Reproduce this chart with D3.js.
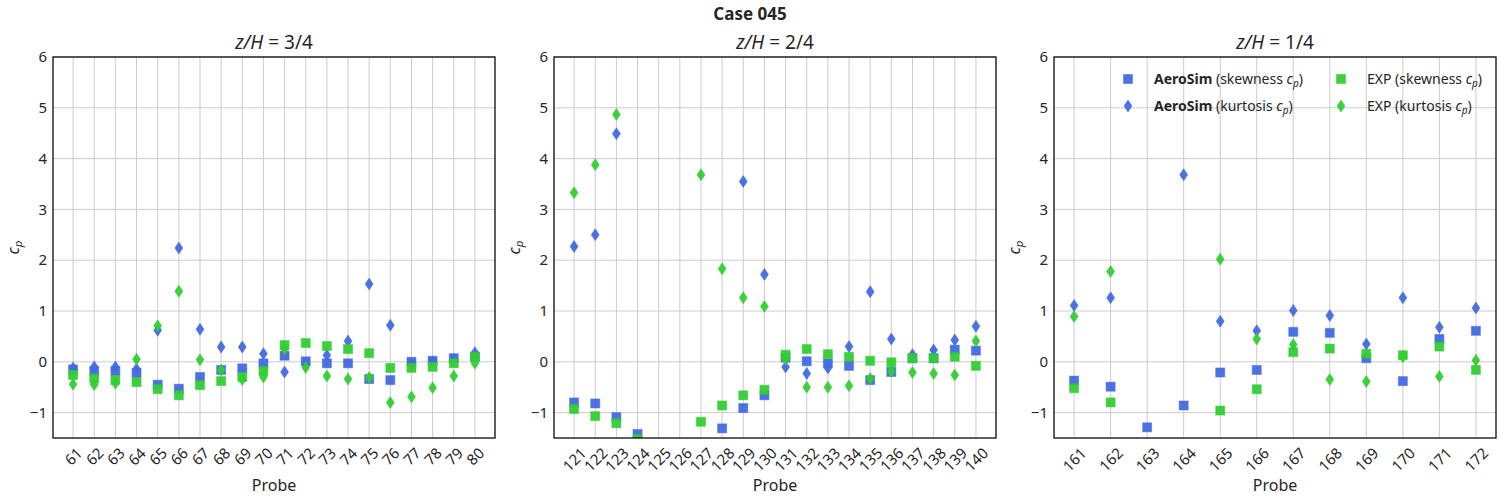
<!DOCTYPE html>
<html lang="en">
<head>
<meta charset="UTF-8">
<title>Case 045</title>
<script src="https://d3js.org/d3.v7.min.js"></script>
<style>
    body { margin: 0; background: #fff; }
    svg text { font-family: "Noto Sans", "Open Sans", sans-serif; fill: #262626; }
</style>
</head>
<body>
<div id="fig"></div>
<script>
    // probes per level
    let probes1 = d3.range(61, 81)
    let probes2 = d3.range(121, 141)
    let probes3 = d3.range(161, 173)

    // z/H = 3/4
    let asSkew1 = [-0.15,-0.18,-0.18,-0.22,-0.45,-0.53,-0.30,-0.16,-0.13,-0.03, 0.12,0.01,-0.03,-0.03,-0.34,-0.36,0.00,0.02,0.07,0.10]
    let asKurt1 = [-0.12,-0.10,-0.10,-0.14,0.62,2.24,0.64,0.29,0.29,0.16, -0.20,-0.05,0.13,0.41,1.53,0.72,-0.05,0.00,0.05,0.18]
    let expSkew1 = [-0.26,-0.33,-0.36,-0.40,-0.54,-0.66,-0.46,-0.38,-0.30,-0.18, 0.33,0.37,0.31,0.25,0.17,-0.12,-0.12,-0.10,-0.03,0.10]
    let expKurt1 = [-0.44,-0.45,-0.42,0.05,0.71,1.39,0.04,-0.16,-0.35,-0.30, 0.25,-0.11,-0.28,-0.34,-0.31,-0.80,-0.69,-0.51,-0.28,-0.03]

    // z/H = 2/4
    let asSkew2 = [-0.80,-0.82,-1.09,-1.42,null,null,null,-1.31,-0.91,-0.66, 0.08,0.01,-0.03,-0.08,-0.36,-0.20,0.07,0.07,0.24,0.22]
    let asKurt2 = [2.27,2.50,4.49,null,null,null,null,null,3.55,1.72, -0.10,-0.23,-0.12,0.30,1.38,0.45,0.14,0.23,0.43,0.70]
    let expSkew2 = [-0.93,-1.07,-1.21,-1.52,null,null,-1.18,-0.86,-0.66,-0.55, 0.14,0.25,0.15,0.10,0.02,-0.01,0.07,0.07,0.10,-0.08]
    let expKurt2 = [3.33,3.88,4.87,null,null,null,3.68,1.83,1.26,1.09, 0.05,-0.50,-0.50,-0.47,-0.33,-0.19,-0.21,-0.23,-0.26,0.41]

    // z/H = 1/4
    let asSkew3 = [-0.37,-0.49,-1.29,-0.86,-0.21,-0.16,0.59,0.57,0.07,-0.38,0.45,0.61]
    let asKurt3 = [1.11,1.26,null,3.68,0.80,0.61,1.01,0.91,0.35,1.26,0.68,1.06]
    let expSkew3 = [-0.52,-0.80,null,null,-0.96,-0.54,0.19,0.26,0.16,0.13,0.30,-0.16]
    let expKurt3 = [0.89,1.78,null,null,2.02,0.45,0.34,-0.35,-0.39,0.10,-0.29,0.03]

    let titles = ["3/4", "2/4", "1/4"]
    let yTicks = [-1, 0, 1, 2, 3, 4, 5, 6]

    let blue = "#4169e1", green = "#32cd32"

    let panels = [
        {probes: probes1, series: [asSkew1, asKurt1, expSkew1, expKurt1], left: 53},
        {probes: probes2, series: [asSkew2, asKurt2, expSkew2, expKurt2], left: 554},
        {probes: probes3, series: [asSkew3, asKurt3, expSkew3, expKurt3], left: 1054}
    ]
    let styles = [
        {color: blue, shape: "s"}, {color: blue, shape: "d"},
        {color: green, shape: "s"}, {color: green, shape: "d"}
    ]

    let W = 1500, H = 500, yTop = 57, yBot = 438, pw = 442

    let svg = d3.select("#fig").append("svg").attr("width", W).attr("height", H)

    svg.append("text").attr("x", 750).attr("y", 20).attr("text-anchor", "middle")
        .style("font-size", "17px").style("font-weight", "bold").text("Case 045")

    function marker(g, shape, color, x, y) {
        if (shape === "s") {
            g.append("rect").attr("x", x - 4.5).attr("y", y - 4.5)
                .attr("width", 9).attr("height", 9)
                .attr("fill", color).attr("fill-opacity", 0.95)
                .attr("stroke", color).attr("stroke-opacity", 0.5).attr("stroke-width", 1)
        } else {
            g.append("path").attr("d", `M${x},${y - 6}L${x + 4},${y}L${x},${y + 6}L${x - 4},${y}Z`)
                .attr("fill", color).attr("fill-opacity", 0.95)
                .attr("stroke", color).attr("stroke-opacity", 0.5).attr("stroke-width", 1)
        }
    }

    panels.forEach(function (p, k) {
        let n = p.probes.length
        let lo = p.probes[0], hi = p.probes[n - 1], m = (hi - lo) * 0.05
        let x = d3.scaleLinear().domain([lo - m, hi + m]).range([p.left, p.left + pw])
        let y = d3.scaleLinear().domain([-1.5, 6]).range([yBot, yTop])
        let g = svg.append("g")

        // grid
        g.selectAll(".vg").data(p.probes).join("line")
            .attr("x1", d => x(d)).attr("x2", d => x(d)).attr("y1", yTop).attr("y2", yBot)
            .attr("stroke", "#cccccc").attr("stroke-width", 1)
        g.selectAll(".hg").data(yTicks).join("line")
            .attr("x1", p.left).attr("x2", p.left + pw).attr("y1", d => y(d)).attr("y2", d => y(d))
            .attr("stroke", "#cccccc").attr("stroke-width", 1)

        // markers, clipped to axes
        svg.append("clipPath").attr("id", "clip" + k).append("rect")
            .attr("x", p.left).attr("y", yTop).attr("width", pw).attr("height", yBot - yTop)
        let mg = g.append("g").attr("clip-path", `url(#clip${k})`)
        p.series.forEach(function (s, j) {
            s.forEach(function (v, i) {
                if (v === null) return
                marker(mg, styles[j].shape, styles[j].color, x(p.probes[i]), y(v))
            })
        })

        // frame
        g.append("rect").attr("x", p.left).attr("y", yTop).attr("width", pw).attr("height", yBot - yTop)
            .attr("fill", "none").attr("stroke", "#000").attr("stroke-width", 1.25)

        // y tick labels
        g.selectAll(".yt").data(yTicks).join("text")
            .attr("x", p.left - 6).attr("y", d => y(d)).attr("dy", "0.35em")
            .attr("text-anchor", "end").style("font-size", "15px")
            .text(d => d < 0 ? "\u2212" + Math.abs(d) : d)

        // x tick labels, rotated 45
        p.probes.forEach(function (d) {
            let t = g.append("text").style("font-size", "15px")
                .attr("text-anchor", "middle").attr("dominant-baseline", "central").text(d)
            let bb = t.node().getBBox()
            let half = (bb.width + bb.height * 0.7) * 0.7071 / 2
            t.attr("transform", `translate(${x(d)},${445 + half}) rotate(-45)`)
        })

        // axis labels
        g.append("text").attr("x", p.left + pw / 2).attr("y", 491).attr("text-anchor", "middle")
            .style("font-size", "16px").text("Probe")
        let yl = g.append("text").attr("transform", `translate(${p.left - 34},${(yTop + yBot) / 2}) rotate(-90)`)
            .attr("text-anchor", "middle").style("font-size", "16px")
        yl.append("tspan").style("font-style", "italic").text("c")
        yl.append("tspan").style("font-style", "italic").style("font-size", "11.5px").attr("dy", 3).text("p")

        // title
        let tt = g.append("text").attr("x", p.left + pw / 2).attr("y", 49).attr("text-anchor", "middle")
            .style("font-size", "19px")
        tt.append("tspan").style("font-style", "italic").text("z/H")
        tt.append("tspan").text(" = " + titles[k])
    })

    // legend in third panel
    let legendItems = [
        {label: "AeroSim", rest: "(skewness ", col: 0, row: 0, s: styles[0]},
        {label: "AeroSim", rest: "(kurtosis ", col: 0, row: 1, s: styles[1]},
        {label: "EXP", rest: "(skewness ", col: 1, row: 0, s: styles[2]},
        {label: "EXP", rest: "(kurtosis ", col: 1, row: 1, s: styles[3]}
    ]
    let lg = svg.append("g")
    legendItems.forEach(function (it) {
        let mx = it.col === 0 ? 1128 : 1341
        let my = it.row === 0 ? 79 : 106
        marker(lg, it.s.shape, it.s.color, mx, my)
        let t = lg.append("text").attr("x", mx + 26).attr("y", my + 5).style("font-size", "14px")
        t.append("tspan").style("font-weight", it.col === 0 ? "bold" : "normal").text(it.label)
        t.append("tspan").text(" " + it.rest)
        t.append("tspan").style("font-style", "italic").text("c")
        t.append("tspan").style("font-style", "italic").style("font-size", "10px").attr("dy", 3).text("p")
        t.append("tspan").attr("dy", -3).text(")")
    })
</script>
</body>
</html>
